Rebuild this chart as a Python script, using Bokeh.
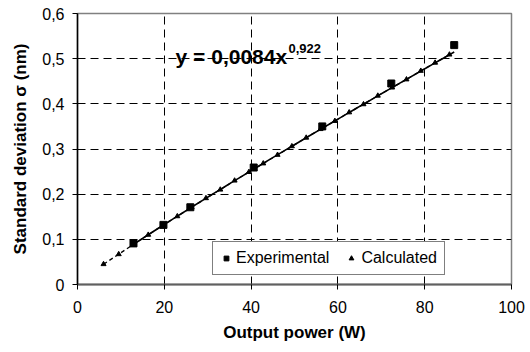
import numpy as np
from bokeh.plotting import figure
from bokeh.models import (Label, Legend, LegendItem, CustomJSTickFormatter,
                          FixedTicker)
from bokeh.embed import file_html
from bokeh.resources import INLINE

# --- data ---
exp_x = [12.9, 19.8, 26.0, 40.6, 56.4, 72.3, 86.8]
exp_y = [0.091, 0.132, 0.171, 0.259, 0.350, 0.445, 0.530]

calc_x = [6.0, 9.5, 12.9, 16.3, 19.7, 23.0, 26.3, 29.6, 32.9, 36.2, 39.5,
          42.8, 46.1, 49.4, 52.7, 56.0, 59.3, 62.6, 65.9, 69.2, 72.5, 75.8,
          79.1, 82.4, 85.7]
calc_y = [0.045, 0.067, 0.089, 0.110, 0.131, 0.151, 0.171, 0.191, 0.210,
          0.230, 0.249, 0.268, 0.287, 0.306, 0.325, 0.344, 0.362, 0.381,
          0.399, 0.418, 0.436, 0.454, 0.473, 0.491, 0.509]

fit_a = 0.0084
fit_b = 0.922
fit_text = "y = 0,0084x"
fit_sup = "0,922"

x_ticks = [0, 20, 40, 60, 80, 100]
y_ticks = [0, 0.1, 0.2, 0.3, 0.4, 0.5, 0.6]

FONT = "Liberation Sans"

p = figure(width=530, height=352, x_range=(0, 100), y_range=(0, 0.6),
           output_backend="svg", toolbar_location=None,
           min_border_left=77, min_border_right=19, min_border_top=13,
           min_border_bottom=68)
p.background_fill_color = "white"
p.border_fill_color = "white"
p.outline_line_color = "#808080"
p.outline_line_width = 1.5

# axes
p.xaxis.ticker = FixedTicker(ticks=x_ticks)
p.yaxis.ticker = FixedTicker(ticks=y_ticks)
p.yaxis.formatter = CustomJSTickFormatter(
    code="return tick == 0 ? '0' : tick.toFixed(1).replace('.', ',');")
for ax in (p.xaxis, p.yaxis):
    ax.major_label_text_font = FONT
    ax.major_label_text_font_size = "16px"
    ax.major_label_text_color = "black"
    ax.axis_label_text_font = FONT
    ax.axis_label_text_font_style = "bold"
    ax.axis_label_text_font_size = "17px"
    ax.axis_label_text_color = "black"
    ax.minor_tick_line_color = None
    ax.major_tick_in = 0
    ax.major_tick_out = 5
    ax.major_tick_line_color = "black"
    ax.major_tick_line_width = 1
p.xaxis.axis_label = "Output power (W)"
p.yaxis.axis_label = "Standard deviation σ (nm)"
p.xaxis.axis_line_color = "#606060"
p.xaxis.axis_line_width = 2
p.yaxis.axis_line_color = "black"
p.yaxis.axis_line_width = 1.5
p.xaxis.major_label_standoff = 11
p.yaxis.major_label_standoff = 8
p.xaxis.axis_label_standoff = 7
p.yaxis.axis_label_standoff = 9

# grid
p.xgrid.ticker = FixedTicker(ticks=x_ticks[1:-1])
p.ygrid.ticker = FixedTicker(ticks=y_ticks[1:-1])
for g in (p.xgrid, p.ygrid):
    g.grid_line_color = "black"
    g.grid_line_dash = "8 5"
    g.grid_line_width = 1

# fitted power-law trendline (equation shown on the chart)
tx = np.linspace(min(exp_x), max(exp_x), 60)
p.line(tx, fit_a * tx ** fit_b, line_color="black", line_width=1.6)

# calculated series: dashed line + triangles
p.line(calc_x, calc_y, line_color="black", line_width=1.3, line_dash="4 3")
tri = p.scatter(calc_x, calc_y, marker="triangle", size=5,
                fill_color="black", line_color="black")

# experimental squares
sq = p.scatter(exp_x, exp_y, marker="square", size=7,
               fill_color="black", line_color="black")

# equation label
p.add_layout(Label(x=22.6, y=0.5044, text=fit_text, text_font=FONT,
                   text_font_size="21px", text_font_style="bold",
                   text_color="black", text_baseline="alphabetic"))
p.add_layout(Label(x=48.6, y=0.5216, text=fit_sup, text_font=FONT,
                   text_font_size="13px", text_font_style="bold",
                   text_color="black", text_baseline="alphabetic"))

legend = Legend(items=[LegendItem(label="Experimental", renderers=[sq]),
                       LegendItem(label="Calculated", renderers=[tri])],
                orientation="horizontal", location=(135, 9))
legend.border_line_color = "black"
legend.border_line_width = 1
legend.background_fill_color = "white"
legend.background_fill_alpha = 1
legend.label_text_font = FONT
legend.label_text_font_size = "16px"
legend.label_text_color = "black"
legend.glyph_width = 12
legend.glyph_height = 16
legend.label_standoff = 4
legend.spacing = 16
legend.padding = 7
legend.margin = 0
p.add_layout(legend)

open("out.html", "w").write(file_html(p, INLINE))
